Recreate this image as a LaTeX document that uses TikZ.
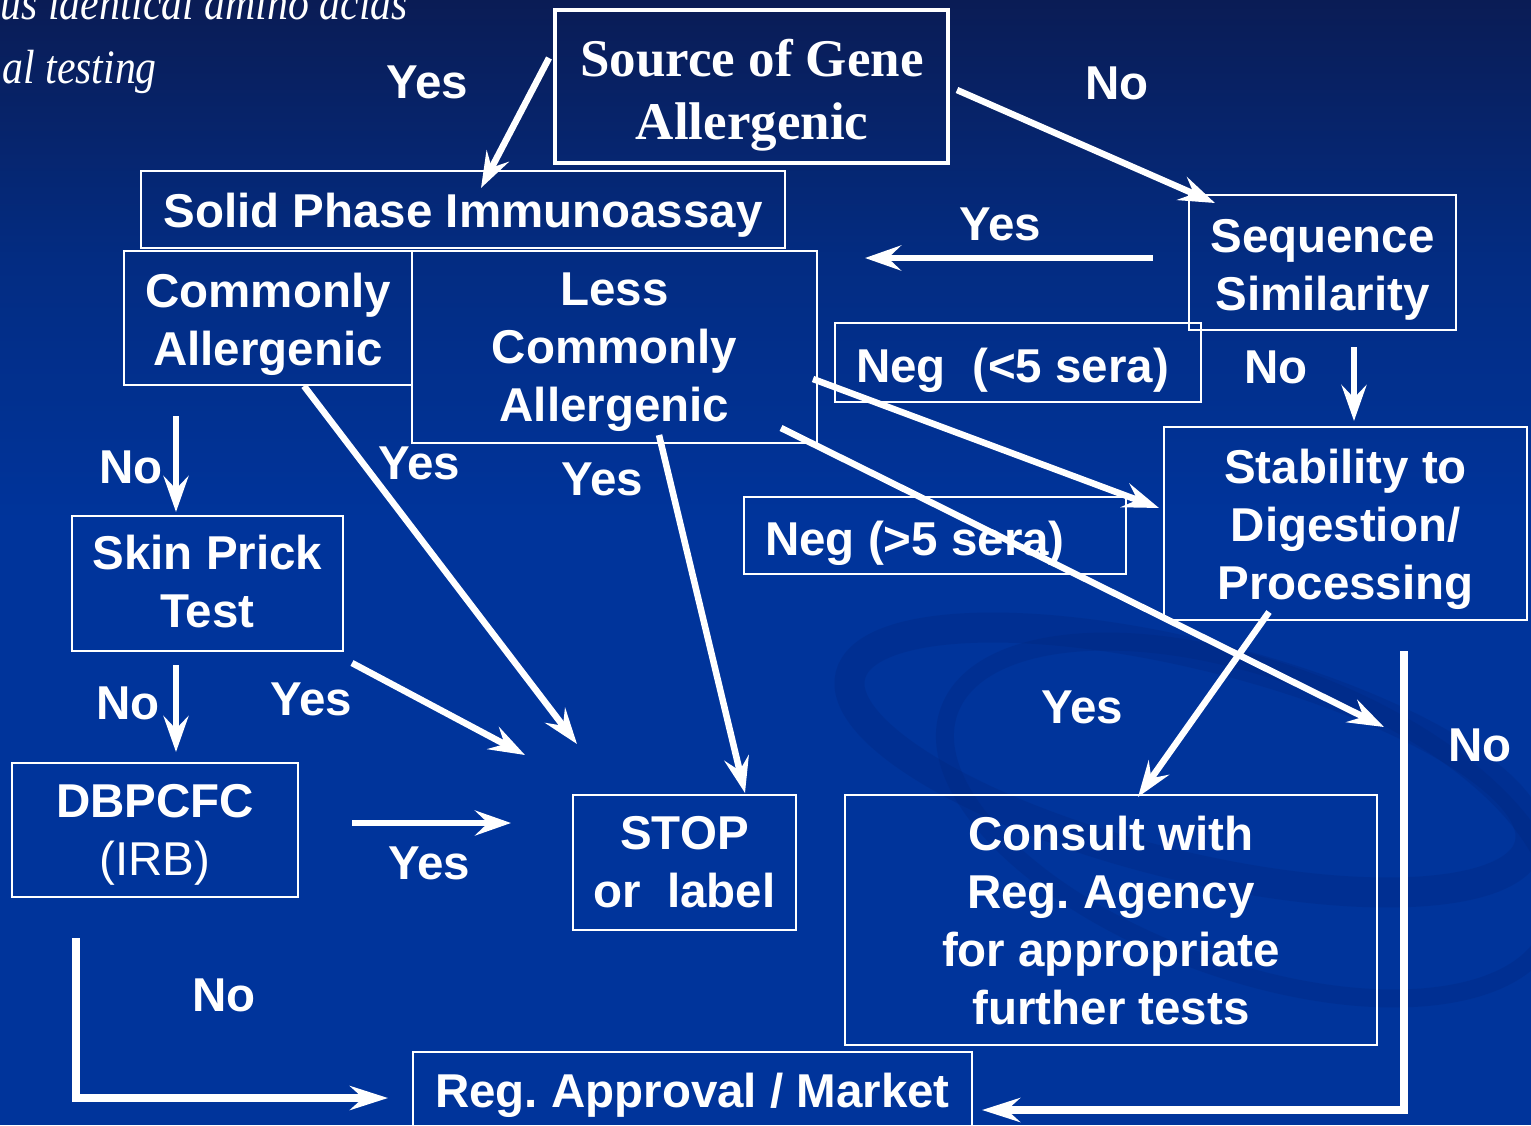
\documentclass[tikz,border=0pt]{standalone}
\usepackage{fontspec}
\setmainfont{Liberation Sans}
\newfontfamily\seriffont{Liberation Serif}
\usetikzlibrary{arrows.meta}
\definecolor{bgtop}{RGB}{10,28,85}
\definecolor{bgmid}{RGB}{3,44,130}
\definecolor{bgbot}{RGB}{0,52,155}
\definecolor{swirlc}{RGB}{0,36,120}
\frenchspacing
\begin{document}
\frenchspacing
\begin{tikzpicture}[x=1pt,y=-1pt,
  box/.style={draw=white, line width=1.6pt, inner sep=0pt, fill=none},
  txt/.style={text=white, font=\fontsize{47.5}{58}\selectfont\bfseries\frenchspacing, align=center, inner sep=0pt},
  lbl/.style={text=white, font=\fontsize{47.5}{58}\selectfont\bfseries, inner sep=0pt},
  arr/.style={draw=white, line width=6.5pt, -{Stealth[length=36pt,width=25pt,inset=13pt]}},
  elbow/.style={draw=white, line width=7.5pt, -{Stealth[length=38pt,width=24pt,inset=13pt]}}]
\useasboundingbox (0,0) rectangle (1531,1125);
\clip (0,0) rectangle (1531,1125);
% background
\fill[bgbot] (0,0) rectangle (1531,1125);
\shade[top color=bgtop, bottom color=bgmid] (0,0) rectangle (1531,260);
\shade[top color=bgmid, bottom color=bgbot] (0,259) rectangle (1531,520);
% faint swirl
\begin{scope}[opacity=0.25]
\draw[swirlc, line width=30pt, rotate around={-14:(1190,760)}] (1190,760) ellipse [x radius=350, y radius=105];
\draw[swirlc, line width=18pt, rotate around={-20:(1250,820)}] (1250,820) ellipse [x radius=320, y radius=150];
\end{scope}
% side italic text
\node[text=white, font=\seriffont\itshape\fontsize{48}{58}\selectfont, anchor=base east, inner sep=0pt] (t1) at (408,19) {\scalebox{0.87}[1]{us identical amino acids}};
\node[text=white, font=\seriffont\itshape\fontsize{48}{58}\selectfont, anchor=base east, inner sep=0pt] (t2) at (157,83) {\scalebox{0.87}[1]{al testing}};
% boxes
\node[draw=white, line width=4.5pt, minimum width=393pt, minimum height=153pt, inner sep=0pt] (src) at (751.5,86.5) {};
\node[text=white, font=\seriffont\bfseries\fontsize{53}{63}\selectfont, align=center, inner sep=0pt] (srct) at (752,95) {Source of Gene\\Allergenic};
\node[box, minimum width=644pt, minimum height=77pt] (spi) at (463,209.5) {};
\node[txt] (spit) at (463,215.5) {Solid Phase Immunoassay};
\node[box, minimum width=288pt, minimum height=134pt] (ca) at (268,318) {};
\node[txt] (cat) at (268,324.5) {Commonly\\Allergenic};
\node[box, minimum width=405pt, minimum height=192pt] (lca) at (614.5,347) {};
\node[txt] (lcat) at (614.5,352) {Less\\Commonly\\Allergenic};
\node[box, minimum width=267pt, minimum height=135pt] (seq) at (1322.5,262.5) {};
\node[txt] (seqt) at (1322.5,270) {Sequence\\Similarity};
\node[box, minimum width=366pt, minimum height=79pt] (neg1) at (1018,362.5) {};
\node[txt, anchor=west] (neg1t) at (856,370.5) {Neg\ \ (<5 sera)};
\node[box, minimum width=363pt, minimum height=193pt] (stab) at (1345.5,523.5) {};
\node[txt] (stabt) at (1345.5,529) {Stability to\\Digestion/\\Processing};
\node[box, minimum width=382pt, minimum height=77pt] (neg2) at (935,535.5) {};
\node[txt, anchor=west] (neg2t) at (765,543.5) {Neg (>5 sera)};
\node[box, minimum width=271pt, minimum height=135pt] (spt) at (207.5,583.5) {};
\node[txt] (sptt) at (207.5,581.5) {Skin Prick\\Test};
\node[box, minimum width=286pt, minimum height=134pt] (dbp) at (155,830) {};
\node[txt] (dbpt) at (155,835) {DBPCFC\\{\mdseries (IRB)}};
\node[box, minimum width=223pt, minimum height=135pt] (stop) at (684.5,862.5) {};
\node[txt] (stopt) at (684.5,862) {STOP\\or\ \ label};
\node[box, minimum width=532pt, minimum height=250pt] (cons) at (1111,920) {};
\node[txt] (const) at (1111,921) {Consult with\\Reg. Agency\\for appropriate\\further tests};
\node[box, minimum width=559pt, minimum height=120pt, anchor=north] (reg) at (692.5,1051) {};
\node[txt] (regt) at (692.5,1095.5) {Reg. Approval / Market};
% endpoints
\coordinate (a1s) at (549,58);   \coordinate (a1e) at (481,188);
\coordinate (a2s) at (957,90);   \coordinate (a2e) at (1215,203);
\coordinate (a3s) at (1153,258); \coordinate (a3e) at (865,258);
\coordinate (a4s) at (1354,347); \coordinate (a4e) at (1354,421);
\coordinate (a5s) at (813,379);  \coordinate (a5e) at (1159,508);
\coordinate (a6s) at (781,428);  \coordinate (a6e) at (1384,727);
\coordinate (a7s) at (176,416);  \coordinate (a7e) at (176,512);
\coordinate (a8s) at (304,386);  \coordinate (a8e) at (577,744);
\coordinate (a9s) at (659,435);  \coordinate (a9e) at (745,793);
\coordinate (a10s) at (176,665); \coordinate (a10e) at (176,752);
\coordinate (a11s) at (352,663); \coordinate (a11e) at (525,755);
\coordinate (a12s) at (352,823); \coordinate (a12e) at (511,823);
\coordinate (a13s) at (76,938);  \coordinate (a13c) at (76,1098); \coordinate (a13e) at (388,1098);
\coordinate (a14s) at (1269,612); \coordinate (a14e) at (1138,797);
\coordinate (a15s) at (1404,651); \coordinate (a15c) at (1404,1110); \coordinate (a15e) at (982,1110);
% arrows
\draw[arr] (a1s) -- (a1e);
\draw[arr] (a2s) -- (a2e);
\draw[arr] (a3s) -- (a3e);
\draw[arr] (a4s) -- (a4e);
\draw[arr] (a5s) -- (a5e);
\draw[arr] (a6s) -- (a6e);
\draw[arr] (a7s) -- (a7e);
\draw[arr] (a8s) -- (a8e);
\draw[arr] (a9s) -- (a9e);
\draw[arr] (a10s) -- (a10e);
\draw[arr] (a11s) -- (a11e);
\draw[arr] (a12s) -- (a12e);
\draw[elbow] (a13s) -- (a13c) -- (a13e);
\draw[arr] (a14s) -- (a14e);
\draw[elbow] (a15s) -- (a15c) -- (a15e);
% labels
\node[lbl] (l1) at (427,82) {Yes};
\node[lbl] (l2) at (1117,83) {No};
\node[lbl] (l3) at (1000,224) {Yes};
\node[lbl] (l4) at (1276,367) {No};
\node[lbl] (l5) at (131,467) {No};
\node[lbl] (l6) at (419,463) {Yes};
\node[lbl] (l7) at (602,479) {Yes};
\node[lbl] (l8) at (128,703) {No};
\node[lbl] (l9) at (311,699) {Yes};
\node[lbl] (l10) at (429,863) {Yes};
\node[lbl] (l11) at (224,995) {No};
\node[lbl] (l12) at (1082,707) {Yes};
\node[lbl] (l13) at (1480,745) {No};
\end{tikzpicture}
\end{document}
